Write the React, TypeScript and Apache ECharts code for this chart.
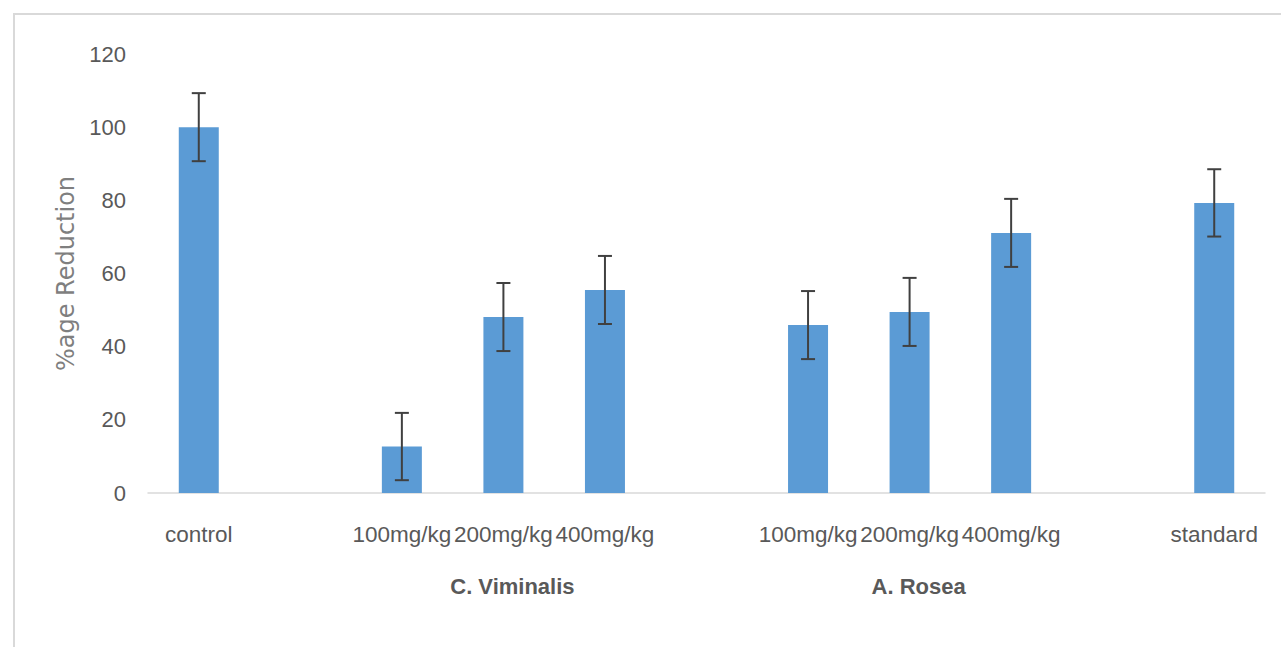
import React, { useEffect, useRef } from "react";
import * as echarts from "echarts";

const categories = [
  "control", "", "100mg/kg", "200mg/kg", "400mg/kg", "",
  "100mg/kg", "200mg/kg", "400mg/kg", "", "standard",
];
const groupLabels = ["", "", "", "C. Viminalis", "", "", "", "A. Rosea", "", "", ""];
const values: (number | null)[] = [100, null, 12.7, 48.1, 55.5, null, 45.9, 49.5, 71.1, null, 79.3];
const errors: (number | null)[] = [9.3, null, 9.2, 9.3, 9.3, null, 9.3, 9.3, 9.3, null, 9.2];
const yTicks = { min: 0, max: 120, interval: 20 };

const FONT = "'Liberation Sans', Arial, sans-serif";

export default function App() {
  const ref = useRef<HTMLDivElement>(null);
  useEffect(() => {
    document.body.style.margin = "0";
    if (!ref.current) return;
    const chart = echarts.init(ref.current, undefined, { renderer: "svg" });
    const errData = values
      .map((v, i) => (v == null || errors[i] == null ? null : [i, v - (errors[i] as number), v + (errors[i] as number)]))
      .filter((d) => d != null);
    chart.setOption({
      animation: false,
      backgroundColor: "#ffffff",
      graphic: [
        {
          type: "rect",
          shape: { x: 14, y: 14, width: 1300, height: 700 },
          style: { fill: "none", stroke: "#d9d9d9", lineWidth: 2 },
          silent: true,
        },
      ],
      grid: { left: 148, right: 16, top: 54, bottom: 154 },
      xAxis: [
        {
          type: "category",
          data: categories,
          position: "bottom",
          axisLine: { show: true, lineStyle: { color: "#d9d9d9", width: 1.5 } },
          axisTick: { show: false },
          axisLabel: {
            interval: 0,
            color: "#595959",
            fontSize: 22.5,
            fontFamily: FONT,
            margin: 30,
          },
        },
        {
          type: "category",
          data: groupLabels,
          position: "bottom",
          axisLine: { show: false },
          axisTick: { show: false },
          axisLabel: {
            interval: 0,
            color: "#595959",
            fontSize: 22,
            fontWeight: "bold",
            fontFamily: FONT,
            margin: 82,
            padding: [0, 0, 0, 18],
          },
        },
      ],
      yAxis: {
        type: "value",
        min: yTicks.min,
        max: yTicks.max,
        interval: yTicks.interval,
        axisLine: { show: false },
        axisTick: { show: false },
        splitLine: { show: false },
        axisLabel: { color: "#595959", fontSize: 22, fontFamily: FONT, margin: 22 },
        name: "%age Reduction",
        nameLocation: "middle",
        nameRotate: 90,
        nameGap: 70,
        nameTextStyle: { color: "#7f7f7f", fontSize: 24, fontFamily: "'DejaVu Sans', sans-serif" },
      },
      series: [
        {
          type: "bar",
          data: values.map((v) => (v == null ? "-" : v)),
          barWidth: 40,
          itemStyle: { color: "#5b9bd5" },
          xAxisIndex: 0,
        },
        {
          type: "custom",
          xAxisIndex: 0,
          data: errData,
          encode: { x: 0, y: [1, 2] },
          z: 10,
          renderItem: (params: any, api: any) => {
            const x = api.value(0);
            const lo = api.coord([x, api.value(1)]);
            const hi = api.coord([x, api.value(2)]);
            const cap = 7;
            const style = { stroke: "#404040", lineWidth: 2 };
            return {
              type: "group",
              children: [
                { type: "line", shape: { x1: hi[0], y1: hi[1], x2: lo[0], y2: lo[1] }, style },
                { type: "line", shape: { x1: hi[0] - cap, y1: hi[1], x2: hi[0] + cap, y2: hi[1] }, style },
                { type: "line", shape: { x1: lo[0] - cap, y1: lo[1], x2: lo[0] + cap, y2: lo[1] }, style },
              ],
            };
          },
        },
      ],
    });
    return () => chart.dispose();
  }, []);
  return <div ref={ref} style={{ width: 1281, height: 647 }} />;
}
